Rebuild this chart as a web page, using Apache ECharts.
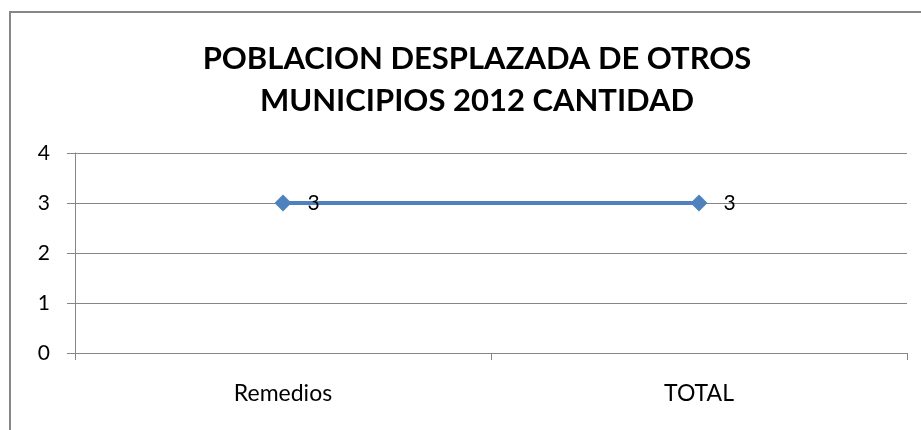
<!DOCTYPE html>
<html>
<head>
<meta charset="utf-8">
<script src="https://cdn.jsdelivr.net/npm/echarts@6/dist/echarts.min.js"></script>
<style>
    html, body { margin: 0; padding: 0; background: #fff; overflow: hidden; width: 921px; height: 430px; }
    #frame {
        position: absolute; left: 9px; top: 11px;
        width: 910px; height: 417px;
        border-left: 2px solid #868686; border-top: 2px solid #868686;
    }
    #chart { position: absolute; left: 0; top: 0; width: 921px; height: 430px; }
</style>
</head>
<body>
<div id="frame"></div>
<div id="chart"></div>
<script>
// datos del grafico
const categorias = ['Remedios', 'TOTAL'];
const cantidad = [3, 3];
const titulo = 'POBLACION DESPLAZADA DE OTROS\nMUNICIPIOS 2012 CANTIDAD';

const chart = echarts.init(document.getElementById('chart'));
const gris = '#868686';
const fuente = 'Lato';

chart.setOption({
    animation: false,
    title: {
        text: titulo,
        left: 472,
        top: 33,
        textAlign: 'center',
        textStyle: {
            fontFamily: fuente,
            fontWeight: 'bold',
            fontSize: 31,
            lineHeight: 42,
            color: '#000'
        }
    },
    grid: { left: 75, right: 14, top: 153, bottom: 77 },
    xAxis: {
        type: 'category',
        data: categorias,
        boundaryGap: true,
        axisLine: { lineStyle: { color: gris, width: 1 } },
        axisTick: { show: true, length: 7, lineStyle: { color: gris } },
        axisLabel: { color: '#000', fontFamily: fuente, fontSize: 23, margin: 29 }
    },
    yAxis: {
        type: 'value',
        min: 0,
        max: 4,
        interval: 1,
        axisLine: { show: true, lineStyle: { color: gris, width: 1 } },
        axisTick: { show: true, length: 8, lineStyle: { color: gris } },
        axisLabel: { color: '#000', fontFamily: fuente, fontSize: 21, margin: 25 },
        splitLine: { lineStyle: { color: gris, width: 1 } }
    },
    series: [{
        type: 'line',
        data: cantidad,
        symbol: 'diamond',
        symbolSize: 17,
        lineStyle: { color: '#4F81BD', width: 4 },
        itemStyle: { color: '#4F81BD' },
        label: {
            show: true,
            position: 'right',
            distance: 16,
            color: '#000',
            fontFamily: fuente,
            fontSize: 21
        }
    }]
});
</script>
</body>
</html>
